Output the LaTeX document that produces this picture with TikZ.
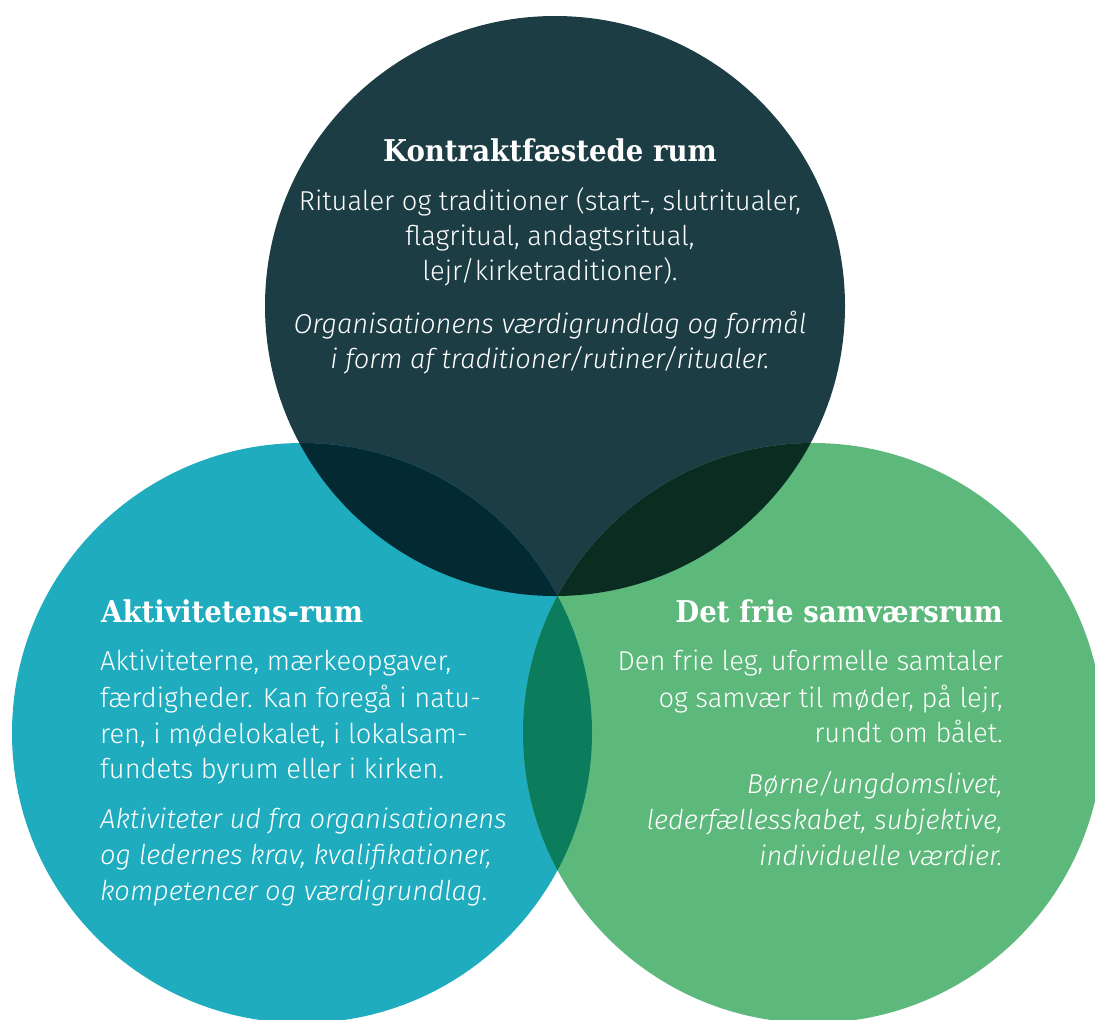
\documentclass[tikz,border=0pt]{standalone}
\usepackage{fontspec}
\setmainfont{Fira Sans}[UprightFont=* Light, ItalicFont=* Light Italic]
\newfontfamily\headfont[FakeStretch=0.92]{DejaVu Serif}
\definecolor{cT}{RGB}{28,61,68}
\definecolor{cL}{RGB}{30,172,190}
\definecolor{cR}{RGB}{93,184,123}
\definecolor{cTL}{RGB}{3,41,51}
\definecolor{cTR}{RGB}{10,44,33}
\definecolor{cLR}{RGB}{11,124,92}
\definecolor{cTLR}{RGB}{1,30,25}
\tikzset{
  head/.style={font=\headfont\bfseries\fontsize{30}{36}\selectfont, text=white, inner sep=0pt, anchor=base},
  body/.style={font=\fontsize{27.3}{35}\selectfont, text=white, inner sep=0pt, anchor=base},
  bodyit/.style={body, font=\fontsize{27.3}{35}\selectfont\itshape},
}
\begin{document}
\begin{tikzpicture}[x=1pt,y=-1pt]
\useasboundingbox (0,0) rectangle (1095,1020);
\coordinate (ct) at (555,306);
\coordinate (cl) at (302,733);
\coordinate (cr) at (813,733);
\def\rr{290pt}
% base circles
\fill[cT] (ct) circle[radius=\rr];
\fill[cL] (cl) circle[radius=\rr];
\fill[cR] (cr) circle[radius=\rr];
% pairwise overlaps
\begin{scope}
  \clip (ct) circle[radius=\rr];
  \fill[cTL] (cl) circle[radius=\rr];
  \fill[cTR] (cr) circle[radius=\rr];
\end{scope}
\begin{scope}
  \clip (cl) circle[radius=\rr];
  \fill[cLR] (cr) circle[radius=\rr];
\end{scope}
\begin{scope}
  \clip (ct) circle[radius=\rr];
  \clip (cl) circle[radius=\rr];
  \fill[cTLR] (cr) circle[radius=\rr];
\end{scope}
% top texts
\node[head] (th) at (550,161) {Kontraktfæstede rum};
\node[body] (t1) at (550,210) {Ritualer og traditioner (start-, slutritualer,};
\node[body] (t2) at (550,245) {flagritual, andagtsritual,};
\node[body] (t3) at (550,280) {lejr/kirketraditioner).};
\node[bodyit] (t4) at (550,333) {Organisationens værdigrundlag og formål};
\node[bodyit] (t5) at (550,368) {i form af traditioner/rutiner/ritualer.};
% left texts
\node[head, anchor=base west] (lh) at (101,622) {Aktivitetens-rum};
\node[body, anchor=base west] (l1) at (100,670) {Aktiviteterne, mærkeopgaver,};
\node[body, anchor=base west] (l2) at (100,707) {færdigheder. Kan foregå i natu-};
\node[body, anchor=base west] (l3) at (100,743) {ren, i mødelokalet, i lokalsam-};
\node[body, anchor=base west] (l4) at (100,778) {fundets byrum eller i kirken.};
\node[bodyit, anchor=base west] (l5) at (100,828) {Aktiviteter ud fra organisationens};
\node[bodyit, anchor=base west] (l6) at (100,864) {og ledernes krav, kvalifikationer,};
\node[bodyit, anchor=base west] (l7) at (100,900) {kompetencer og værdigrundlag.};
% right texts
\node[head, anchor=base east] (rh) at (1003,622) {Det frie samværsrum};
\node[body, anchor=base east] (r1) at (1003,670) {Den frie leg, uformelle samtaler};
\node[body, anchor=base east] (r2) at (1003,707) {og samvær til møder, på lejr,};
\node[body, anchor=base east] (r3) at (1003,742) {rundt om bålet.};
\node[bodyit, anchor=base east] (r4) at (1003,793) {Børne/ungdomslivet,};
\node[bodyit, anchor=base east] (r5) at (1003,829) {lederfællesskabet, subjektive,};
\node[bodyit, anchor=base east] (r6) at (1003,865) {individuelle værdier.};
\end{tikzpicture}
\end{document}
